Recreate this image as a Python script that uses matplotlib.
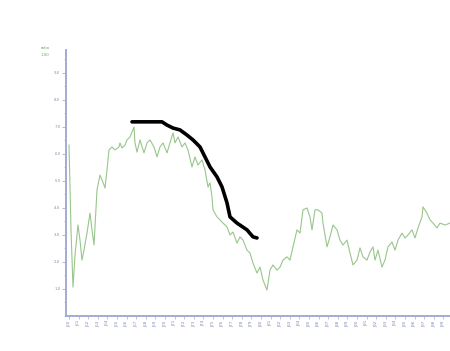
import matplotlib
matplotlib.use("Agg")
import matplotlib.pyplot as plt
from matplotlib.ticker import MultipleLocator

# ---- data ----
green_x = [3, 5, 7, 9, 12, 14, 16, 18, 21, 24, 26, 28, 31, 34, 38, 39, 41, 43, 46, 49,
           53, 54, 56, 59, 61, 64, 66, 68, 69, 71, 74, 78, 81, 84, 88, 91, 94, 97, 101, 104,
           107, 109, 112, 116, 119, 122, 126, 129, 132, 136, 139, 142, 144, 146, 147, 151, 154, 157, 161, 164,
           167, 171, 174, 177, 181, 184, 187, 191, 194, 197, 201, 204, 207, 211, 214, 217, 221, 224, 227, 231,
           234, 237, 241, 244, 246, 249, 252, 256, 257, 261, 264, 267, 271, 274, 277, 281, 284, 287, 291, 294,
           297, 301, 304, 307, 309, 312, 316, 319, 322, 326, 329, 332, 336, 339, 342, 346, 349, 352, 356, 357,
           361, 364, 367, 371, 374, 379, 384]
green_y = [6.33, 3.19, 1.07, 2.26, 3.37, 2.81, 2.07, 2.44, 3.07, 3.81, 3.19, 2.63, 4.67, 5.22, 4.85, 4.74, 5.41, 6.15, 6.26, 6.15,
           6.26, 6.41, 6.22, 6.33, 6.52, 6.63, 6.81, 7.00, 6.41, 6.07, 6.52, 6.04, 6.41, 6.52, 6.26, 5.89, 6.26, 6.41, 6.04, 6.41,
           6.78, 6.41, 6.63, 6.26, 6.41, 6.15, 5.52, 5.89, 5.59, 5.78, 5.41, 4.78, 4.93, 4.41, 3.93, 3.67, 3.56, 3.44, 3.30, 3.00,
           3.11, 2.70, 2.93, 2.81, 2.44, 2.33, 1.96, 1.59, 1.81, 1.33, 0.96, 1.70, 1.89, 1.70, 1.81, 2.07, 2.19, 2.07, 2.56, 3.19,
           3.07, 3.93, 4.00, 3.67, 3.19, 3.93, 3.93, 3.81, 3.44, 2.56, 2.93, 3.37, 3.19, 2.81, 2.63, 2.81, 2.33, 1.89, 2.07, 2.52,
           2.19, 2.07, 2.37, 2.56, 2.07, 2.44, 1.81, 2.07, 2.56, 2.74, 2.44, 2.81, 3.07, 2.89, 3.00, 3.19, 2.89, 3.26, 3.67, 4.04,
           3.81, 3.56, 3.44, 3.26, 3.44, 3.37, 3.44]

black_x = [66, 96, 101, 107, 114, 121, 127, 134, 139, 144, 151, 156, 161, 164, 171, 181, 187, 191]
black_y = [7.19, 7.19, 7.07, 6.96, 6.89, 6.70, 6.52, 6.26, 5.89, 5.52, 5.15, 4.78, 4.19, 3.67, 3.44, 3.19, 2.93, 2.89]

y_ticks = [1, 2, 3, 4, 5, 6, 7, 8, 9]
y_tick_labels = ["1.0", "2.0", "3.0", "4.0", "5.0", "6.0", "7.0", "8.0", "9.0"]
x_years = list(range(60, 100))
x_tick_labels = ["J%02d" % y for y in x_years]

# ---- figure ----
fig = plt.figure(figsize=(4.5, 3.51), dpi=100)
ax = fig.add_axes([66 / 450, 1 - 316 / 351, 384 / 450, 266 / 351])

ax.plot(green_x, green_y, color="#98c68c", lw=0.8)
ax.plot(black_x, black_y, color="black", lw=2.6, solid_capstyle="round",
        solid_joinstyle="round")

ax.set_xlim(0, 384)
ax.set_ylim(0, 9.85)

axis_col = "#a3abd2"
for s in ["top", "right"]:
    ax.spines[s].set_visible(False)
for s in ["left", "bottom"]:
    ax.spines[s].set_color(axis_col)
    ax.spines[s].set_linewidth(1.4)

ax.set_yticks(y_ticks)
ax.set_yticklabels(y_tick_labels, fontsize=2.8, color="#8a8fa8")
ax.yaxis.set_minor_locator(MultipleLocator(0.5))
ax.tick_params(axis="y", which="major", length=3, width=0.6, color=axis_col, pad=1)
ax.tick_params(axis="y", which="minor", length=1.5, width=0.5, color=axis_col)

xt = [3 + 9.6 * i for i in range(len(x_tick_labels))]
ax.set_xticks(xt)
ax.set_xticklabels(x_tick_labels, fontsize=3, rotation=90, color="#7f88b8")
ax.tick_params(axis="x", length=2, width=0.5, color=axis_col, pad=1)

fig.text(45 / 450, 1 - 48 / 351, "ratio", fontsize=2.8, color="#6aa860", ha="center", va="center")
fig.text(45 / 450, 1 - 55 / 351, "1.00", fontsize=2.8, color="#6aa860", ha="center", va="center")

fig.savefig("out.png", dpi=100, facecolor="white")
